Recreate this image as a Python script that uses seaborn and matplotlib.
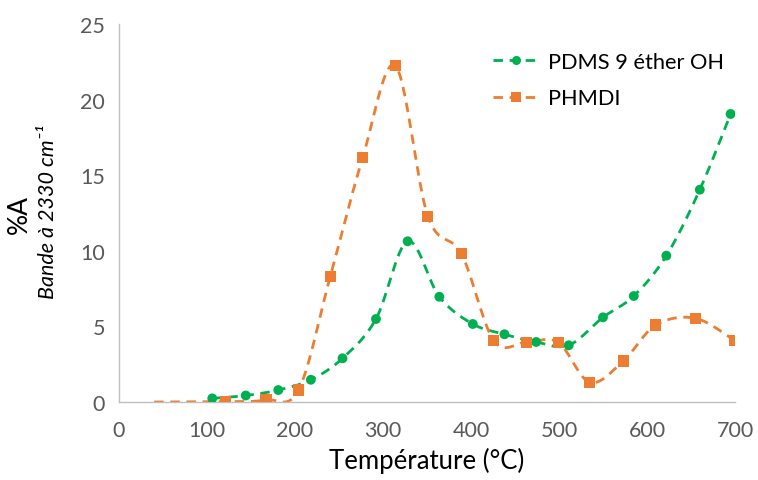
import numpy as np
import pandas as pd
import matplotlib
matplotlib.use("Agg")
import matplotlib.pyplot as plt
import seaborn as sns
from matplotlib.lines import Line2D

# ---- data ----
pdms_x = [106, 144, 181, 218, 254, 292, 328, 364, 402, 438, 474, 511, 550, 585, 622, 660, 695]
pdms_y = [0.24, 0.43, 0.79, 1.47, 2.89, 5.49, 10.63, 6.96, 5.16, 4.48, 3.97, 3.75, 5.60, 7.01, 9.68, 14.04, 19.05]

phmdi_x = [40, 121, 167, 204, 240, 277, 314, 351, 389, 426, 463, 499, 535, 573, 610, 655, 700]
phmdi_y = [0.0, 0.02, 0.13, 0.79, 8.29, 16.18, 22.24, 12.28, 9.81, 4.05, 3.95, 3.95, 1.30, 2.71, 5.09, 5.54, 4.05]
phmdi_marked = [False] + [True] * 16

series_names = ["PDMS 9 éther OH", "PHMDI"]
colors = ["#00B050", "#ED7D31"]
x_ticks = [0, 100, 200, 300, 400, 500, 600, 700]
y_ticks = [0, 5, 10, 15, 20, 25]

sns.set_theme(style="white")
plt.rcParams["font.family"] = ["Lato", "DejaVu Sans"]

W, H = 758, 481
fig = plt.figure(figsize=(W / 100, H / 100), dpi=100)
ax = fig.add_axes([119 / W, 1 - 403 / H, 616 / W, 378 / H])

# pixel scale factors for Excel-like smoothing (done in screen space)
sx = 616 / 700.0
sy = 378 / 25.0


def excel_smooth(xs, ys, n=30):
    px = np.asarray(xs, float) * sx
    py = np.asarray(ys, float) * sy
    m = len(px)
    outx, outy = [], []
    for i in range(m - 1):
        p0 = (px[i - 1], py[i - 1]) if i > 0 else (px[i], py[i])
        p1 = (px[i], py[i])
        p2 = (px[i + 1], py[i + 1])
        p3 = (px[i + 2], py[i + 2]) if i + 2 < m else (px[i + 1], py[i + 1])
        c1 = (p1[0] + (p2[0] - p0[0]) / 6, p1[1] + (p2[1] - p0[1]) / 6)
        c2 = (p2[0] - (p3[0] - p1[0]) / 6, p2[1] - (p3[1] - p1[1]) / 6)
        t = np.linspace(0, 1, n, endpoint=(i == m - 2))
        bx = (1 - t) ** 3 * p1[0] + 3 * (1 - t) ** 2 * t * c1[0] + 3 * (1 - t) * t ** 2 * c2[0] + t ** 3 * p2[0]
        by = (1 - t) ** 3 * p1[1] + 3 * (1 - t) ** 2 * t * c1[1] + 3 * (1 - t) * t ** 2 * c2[1] + t ** 3 * p2[1]
        outx.append(bx)
        outy.append(by)
    return np.concatenate(outx) / sx, np.concatenate(outy) / sy


dash = (3.4, 2.4)
lw = 2.0

# PDMS curve
gx, gy = excel_smooth(pdms_x, pdms_y)
sns.lineplot(x=gx, y=gy, ax=ax, color=colors[0], lw=lw, sort=False, estimator=None)
ax.lines[-1].set_dashes(dash)
sns.scatterplot(x=pdms_x, y=pdms_y, ax=ax, color=colors[0], marker="o", s=50,
                edgecolor="none", zorder=5)

# PHMDI curve
ox, oy = excel_smooth(phmdi_x, phmdi_y)
sns.lineplot(x=ox, y=oy, ax=ax, color=colors[1], lw=lw, sort=False, estimator=None)
ax.lines[-1].set_dashes(dash)
df_o = pd.DataFrame({"x": phmdi_x, "y": phmdi_y, "m": phmdi_marked})
df_o = df_o[df_o["m"]]
sns.scatterplot(data=df_o, x="x", y="y", ax=ax, color=colors[1], marker="s", s=64,
                edgecolor="none", zorder=5)

ax.set_xlim(0, 700)
ax.set_ylim(0, 25)
ax.set_xticks(x_ticks)
ax.set_yticks(y_ticks)
ax.set_xticklabels([str(v) for v in x_ticks])
ax.set_yticklabels([str(v) for v in y_ticks])

for s in ["top", "right"]:
    ax.spines[s].set_visible(False)
for s in ["left", "bottom"]:
    ax.spines[s].set_color("#BFBFBF")
    ax.spines[s].set_linewidth(1.0)
ax.tick_params(axis="both", which="major", direction="out", length=5, width=1.0,
               color="#BFBFBF", labelcolor="#595959", labelsize=15.5, pad=5)
ax.tick_params(axis="x", pad=8)
ax.grid(False)

ax.set_xlabel("Température (°C)", fontsize=18.5, color="#000000", labelpad=5)
ax.set_ylabel("")
fig.text(19 / W, 1 - 214 / H, "%A", rotation=90, ha="center", va="center",
         fontsize=19, color="#000000")
fig.text(48 / W, 1 - 212 / H, "Bande à 2330 cm\u207b\u00b9", rotation=90, ha="center",
         va="center", fontsize=15.5, style="italic", color="#000000",
         family=["Lato", "DejaVu Sans"])

handles = [
    Line2D([0], [0], color=colors[0], lw=lw, dashes=dash, marker="o", markersize=6.5,
           markeredgewidth=0),
    Line2D([0], [0], color=colors[1], lw=lw, dashes=dash, marker="s", markersize=7,
           markeredgewidth=0),
]
leg = ax.legend(handles, series_names, loc="center left",
                bbox_to_anchor=((493 - 119) / 616, (403 - 81) / 378),
                frameon=False, fontsize=15.7, handlelength=2.15, labelspacing=0.75,
                handletextpad=0.35, borderaxespad=0.0, borderpad=0.0)
for t in leg.get_texts():
    t.set_color("#000000")

fig.savefig("out.png", dpi=100)
